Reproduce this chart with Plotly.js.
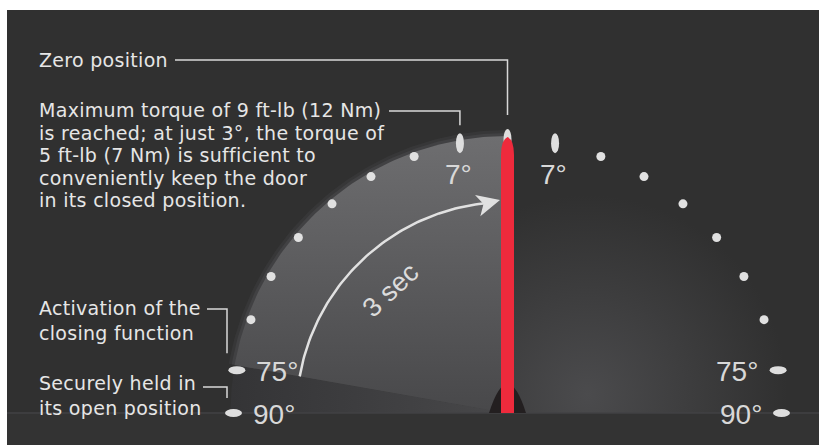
<!DOCTYPE html>
<html>
<head>
<meta charset="utf-8">
<script src="https://cdn.plot.ly/plotly-3.0.1.min.js"></script>
<style>html,body{margin:0;padding:0;background:#fff;}#chart{width:819px;height:445px;}</style>
</head>
<body>
<div id="chart"></div>
<script>
// ---- data ----
const dotAngles = [-70, -60, -50, -40, -30, -20, 20, 30, 40, 50, 60, 70];
const markAngles = [-90, -81, -10, 0, 10, 81, 90];
const markLabels = ["90°", "75°", "7°", "", "7°", "75°", "90°"];
const zeroText = ["Zero position"];
const torqueText = ["Maximum torque of 9 ft-lb (12 Nm)", "is reached; at just 3°, the torque of",
  "5 ft-lb (7 Nm) is sufficient to", "conveniently keep the door", "in its closed position."];
const activationText = ["Activation of the", "closing function"];
const heldText = ["Securely held in", "its open position"];
const arrowAngles = [-80, -6];
const arrowLabel = "3 sec";

// ---- geometry / style ----
const CX = 507.5, CY = 413;
const R_DOT = 273, R_MARK = 274, R_SECTOR = 277, R_ARROW = 211;
const LIGHT = '#e1e1e1', TEXT = '#e6e6e6', BG = '#303030';
const TFONT = '"DejaVu Sans", Verdana, sans-serif';
const NFONT = '"Liberation Sans", Arial, sans-serif';
function pt(a, r) { const t = a * Math.PI / 180; return [CX + r * Math.sin(t), CY - r * Math.cos(t)]; }
function arc(a0, a1, r, n) { const xs = [], ys = []; for (let i = 0; i <= n; i++) { const p = pt(a0 + (a1 - a0) * i / n, r); xs.push(p[0]); ys.push(p[1]); } return [xs, ys]; }
function sector(a0, a1, r) { const s = arc(a0, a1, r, 80); return { x: [CX].concat(s[0], [CX]), y: [CY].concat(s[1], [CY]) }; }

const traces = [];
// right glow (radial: gradient.color is the centre colour)
traces.push({ type: 'scatter', mode: 'markers', x: [CX + 80], y: [CY - 18], hoverinfo: 'skip', showlegend: false,
  marker: { size: 400, color: BG, line: { width: 0 }, gradient: { type: 'radial', color: '#4b4b4d' } } });
// lower band of left sector
const band = sector(-90, -80, R_SECTOR);
traces.push({ type: 'scatter', mode: 'lines', x: band.x, y: band.y, fill: 'toself', line: { width: 0 }, hoverinfo: 'skip', showlegend: false,
  fillcolor: '#3c3c3e', fillgradient: { type: 'horizontal', start: CX - R_SECTOR, stop: CX, colorscale: [[0, '#343436'], [1, '#48484a']] } });
// soft edge
[[6, 0.18], [3, 0.3]].forEach(h => {
  const s = sector(-80, 0, R_SECTOR + h[0]);
  traces.push({ type: 'scatter', mode: 'lines', x: s.x, y: s.y, fill: 'toself', line: { width: 0 }, hoverinfo: 'skip', showlegend: false,
    fillcolor: 'rgba(90,90,92,' + h[1] + ')' });
});
// main sector
const main = sector(-80, 0, R_SECTOR);
traces.push({ type: 'scatter', mode: 'lines', x: main.x, y: main.y, fill: 'toself', line: { width: 0 }, hoverinfo: 'skip', showlegend: false,
  fillcolor: '#5a5a5c', fillgradient: { type: 'vertical', start: CY, stop: CY - R_SECTOR, colorscale: [[0, '#48484a'], [1, '#6e6e70']] } });
// arrow arc
const aa = arc(arrowAngles[0], arrowAngles[1], R_ARROW, 80);
traces.push({ type: 'scatter', mode: 'lines', x: aa[0], y: aa[1], line: { color: LIGHT, width: 2.5 }, hoverinfo: 'skip', showlegend: false });
// arrow head
(function () {
  const tip = [CX - 7.5, CY - 213];
  const ang = 14 * Math.PI / 180;
  const d = [Math.cos(ang), -Math.sin(ang)], n = [Math.sin(ang), Math.cos(ang)];
  const L = 23, W = 11, notch = 17;
  const xs = [tip[0], tip[0] - L * d[0] - W * n[0], tip[0] - notch * d[0], tip[0] - L * d[0] + W * n[0], tip[0]];
  const ys = [tip[1], tip[1] - L * d[1] - W * n[1], tip[1] - notch * d[1], tip[1] - L * d[1] + W * n[1], tip[1]];
  traces.push({ type: 'scatter', mode: 'lines', x: xs, y: ys, fill: 'toself', fillcolor: LIGHT, line: { width: 0 }, hoverinfo: 'skip', showlegend: false });
})();
// dots
traces.push({ type: 'scatter', mode: 'markers', x: dotAngles.map(a => pt(a, R_DOT)[0]), y: dotAngles.map(a => pt(a, R_DOT)[1]),
  marker: { size: 9, color: LIGHT, line: { width: 0 } }, hoverinfo: 'skip', showlegend: false });

const shapes = [];
shapes.push({ type: 'rect', xref: 'x', yref: 'y', x0: 7, x1: 819, y0: CY, y1: 445, fillcolor: '#333333', line: { width: 0 }, layer: 'above' });
shapes.push({ type: 'line', xref: 'x', yref: 'y', x0: 7, x1: 819, y0: CY, y1: CY, line: { color: '#424244', width: 1.5 }, layer: 'above' });
shapes.push({ type: 'path', xref: 'x', yref: 'y', path: `M${CX - 18.5},${CY} Q${CX},${CY - 58} ${CX + 18.5},${CY} Z`, fillcolor: '#231f20', line: { width: 0 }, layer: 'above' });
markAngles.forEach(a => {
  const p = pt(a, R_MARK);
  const horiz = Math.abs(a) >= 45;
  const rx = horiz ? 8.5 : 4, ry = horiz ? 4 : 10;
  shapes.push({ type: 'circle', xref: 'x', yref: 'y', x0: p[0] - rx, x1: p[0] + rx, y0: p[1] - ry, y1: p[1] + ry, fillcolor: '#dedede', line: { width: 0 }, layer: 'above' });
});
(function () {
  const w = 6.5, top = CY - 276, shoulder = top + 18;
  shapes.push({ type: 'path', xref: 'x', yref: 'y', layer: 'above', fillcolor: '#ee2a3c', line: { width: 0 },
    path: `M${CX - w},${CY} L${CX - w},${shoulder} Q${CX - w},${top + 3} ${CX},${top} Q${CX + w},${top + 3} ${CX + w},${shoulder} L${CX + w},${CY} Z` });
})();
const ln = { color: '#d8d8d8', width: 1.5 };
const pZero = pt(0, R_MARK), p7 = pt(-10, R_MARK), p75 = pt(-81, R_MARK), p90 = pt(-90, R_MARK);
shapes.push({ type: 'path', xref: 'x', yref: 'y', layer: 'above', line: ln, path: `M175,60 H${CX} V${pZero[1] - 24}` });
shapes.push({ type: 'path', xref: 'x', yref: 'y', layer: 'above', line: ln, path: `M389,111 H${p7[0]} V${p7[1] - 18}` });
shapes.push({ type: 'path', xref: 'x', yref: 'y', layer: 'above', line: ln, path: `M207,309 H227 V${p75[1] - 17}` });
shapes.push({ type: 'path', xref: 'x', yref: 'y', layer: 'above', line: ln, path: `M203,387 H227 V${p90[1] - 15}` });

const annotations = [];
function txt(t, x, y) {
  annotations.push({ text: t, x: x, y: y, xref: 'x', yref: 'y', showarrow: false, xanchor: 'left', yanchor: 'middle',
    font: { family: TFONT, size: 19, color: TEXT } });
}
txt(zeroText[0], 37, 60);
torqueText.forEach((t, i) => txt(t, 37, 110 + i * 22.5));
activationText.forEach((t, i) => txt(t, 37, 308 + i * 25));
heldText.forEach((t, i) => txt(t, 37, 383 + i * 25));
markAngles.forEach((a, i) => {
  if (!markLabels[i]) return;
  const p = pt(a, R_MARK);
  const f = { family: NFONT, size: 28, color: '#d8d8d8' };
  if (Math.abs(a) >= 45) {
    annotations.push({ text: markLabels[i], x: a < 0 ? p[0] + 17 : p[0] - 18, y: p[1] + 1, xref: 'x', yref: 'y', showarrow: false,
      xanchor: a < 0 ? 'left' : 'right', yanchor: 'middle', font: f });
  } else {
    annotations.push({ text: markLabels[i], x: p[0] - 1.5, y: p[1] + 31, xref: 'x', yref: 'y', showarrow: false,
      xanchor: 'center', yanchor: 'middle', font: f });
  }
});
(function () {
  const p = pt(-43.5, 170);
  annotations.push({ text: arrowLabel, x: p[0], y: p[1], xref: 'x', yref: 'y', showarrow: false, textangle: -43,
    xanchor: 'center', yanchor: 'middle', font: { family: NFONT, size: 27, color: '#dcdcdc' } });
})();

const layout = {
  width: 819, height: 445, margin: { l: 0, r: 0, t: 0, b: 0 },
  paper_bgcolor: '#ffffff', plot_bgcolor: BG, showlegend: false,
  xaxis: { domain: [7 / 819, 1], range: [7, 819], visible: false, fixedrange: true },
  yaxis: { domain: [0, 435 / 445], range: [445, 10], visible: false, fixedrange: true },
  shapes: shapes, annotations: annotations
};
Plotly.newPlot('chart', traces, layout, { displayModeBar: false, staticPlot: true }).then(function (gd) {
  // open the callout lettering slightly (wide geometric face in the original), keeping the left edge fixed
  gd.querySelectorAll('.annotation-text').forEach(function (el) {
    if ((el.style.fontFamily || '').indexOf('DejaVu') < 0) return;
    const b0 = el.getBBox();
    el.style.letterSpacing = '0.3px';
    const b1 = el.getBBox();
    const x = parseFloat(el.getAttribute('x')) || 0;
    el.setAttribute('x', x + (b0.x - b1.x));
  });
});
</script>
</body>
</html>
